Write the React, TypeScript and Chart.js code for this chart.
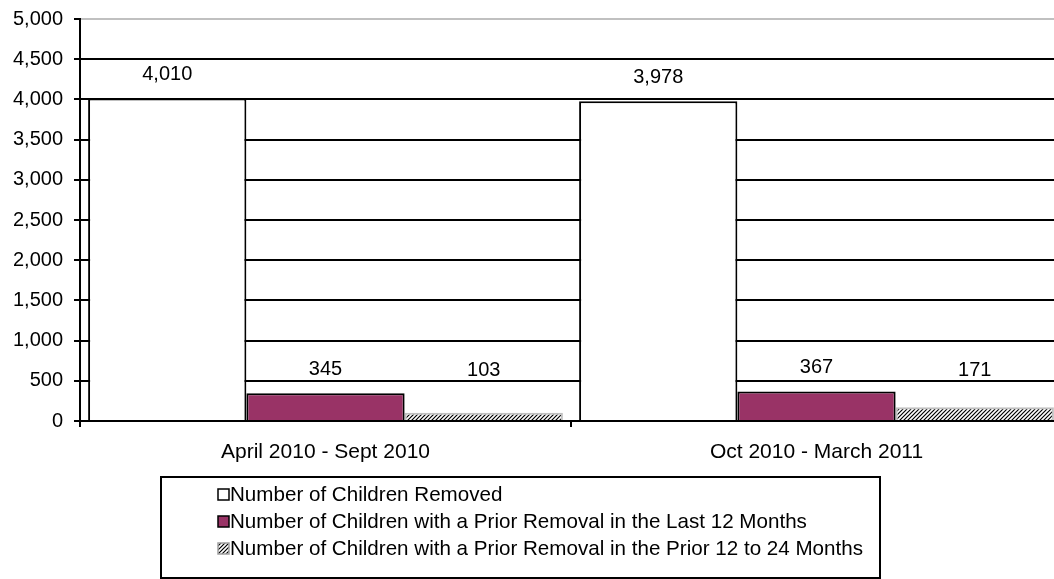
import React, { useEffect, useRef } from "react";
import { Chart, registerables } from "chart.js";

Chart.register(...registerables);

const categories = ["April 2010 - Sept 2010", "Oct 2010 - March 2011"];
const seriesLabels = [
  "Number of Children Removed",
  "Number of Children with a Prior Removal in the Last 12 Months",
  "Number of Children with a Prior Removal in the Prior 12 to 24 Months",
];
const removed = [4010, 3978];
const priorLast12 = [345, 367];
const prior12to24 = [103, 171];
const yMin = 0;
const yMax = 5000;
const yStep = 500;

const FONT = '"Liberation Sans", Arial, sans-serif';
const AXIS_FS = 20;
const CAT_FS = 21;
const LABEL_FS = 20;
const LEGEND_FS = 20.6;

function makeHatch(): CanvasPattern | string {
  const c = document.createElement("canvas");
  const s = 4;
  c.width = s;
  c.height = s;
  const g = c.getContext("2d");
  if (!g) return "#fff";
  g.fillStyle = "#fff";
  g.fillRect(0, 0, s, s);
  g.strokeStyle = "#000";
  g.lineWidth = 1.2;
  g.beginPath();
  g.moveTo(0, s);
  g.lineTo(s, 0);
  g.moveTo(-1, 1);
  g.lineTo(1, -1);
  g.moveTo(s - 1, s + 1);
  g.lineTo(s + 1, s - 1);
  g.stroke();
  const p = g.createPattern(c, "repeat");
  return p || "#fff";
}

const dataLabelPlugin = {
  id: "dataLabels",
  afterDatasetsDraw(chart: any) {
    const ctx = chart.ctx;
    const yScale = chart.scales.y;
    const zeroY = yScale.getPixelForValue(0);
    ctx.save();
    ctx.font = `${LABEL_FS}px ${FONT}`;
    ctx.fillStyle = "#000";
    ctx.textAlign = "center";
    ctx.textBaseline = "middle";
    chart.data.datasets.forEach((ds: any, di: number) => {
      const meta = chart.getDatasetMeta(di);
      meta.data.forEach((bar: any, i: number) => {
        const v = ds.data[i];
        const y = Math.min(bar.y - 24, zeroY - 51);
        ctx.fillText(v.toLocaleString("en-US"), bar.x, y);
      });
    });
    ctx.restore();
  },
};

const legendPlugin = {
  id: "boxLegend",
  afterDraw(chart: any) {
    const ctx = chart.ctx;
    ctx.save();
    ctx.strokeStyle = "#000";
    ctx.lineWidth = 2;
    ctx.strokeRect(161, 477, 719, 101);
    ctx.font = `${LEGEND_FS}px ${FONT}`;
    ctx.textBaseline = "middle";
    ctx.textAlign = "left";
    const rows = [494, 521, 548];
    chart.data.datasets.forEach((ds: any, i: number) => {
      const y = rows[i];
      ctx.fillStyle = ds.backgroundColor;
      ctx.fillRect(218, y - 5, 11, 11);
      ctx.strokeStyle = i === 2 ? "#a0a0a0" : "#000";
      ctx.lineWidth = 1.5;
      ctx.strokeRect(218, y - 5, 11, 11);
      ctx.fillStyle = "#000";
      ctx.fillText(ds.label, 230, y + 1);
    });
    ctx.restore();
  },
};

export default function App() {
  const ref = useRef<HTMLCanvasElement | null>(null);

  useEffect(() => {
    if (!ref.current) return;
    Chart.defaults.font.family = FONT;
    Chart.defaults.font.size = AXIS_FS;
    Chart.defaults.color = "#000";
    const hatch = makeHatch();
    const chart = new Chart(ref.current, {
      type: "bar",
      data: {
        labels: categories,
        datasets: [
          {
            label: seriesLabels[0],
            data: removed,
            backgroundColor: "#ffffff",
            borderColor: "#000000",
            borderWidth: 2,
            borderSkipped: "start",
          },
          {
            label: seriesLabels[1],
            data: priorLast12,
            backgroundColor: "#993366",
            borderColor: "#000000",
            borderWidth: 2,
            borderSkipped: "start",
          },
          {
            label: seriesLabels[2],
            data: prior12to24,
            backgroundColor: hatch as any,
            borderColor: "#c0c0c0",
            borderWidth: 2,
            borderSkipped: "start",
          },
        ],
      },
      options: {
        animation: false,
        responsive: false,
        devicePixelRatio: 1,
        categoryPercentage: 0.967,
        barPercentage: 1,
        layout: { padding: { top: 19, left: 0, right: 0, bottom: 0 } },
        plugins: {
          legend: { display: false },
          tooltip: { enabled: false },
        },
        scales: {
          x: {
            grid: {
              display: true,
              drawOnChartArea: false,
              drawTicks: true,
              tickLength: 6,
              color: "#000",
              tickColor: "#000",
              lineWidth: 2,
              offset: true,
            },
            border: { display: true, color: "#000", width: 2 },
            ticks: { padding: 13, font: { size: CAT_FS, family: FONT }, color: "#000" },
            afterFit(scale: any) {
              scale.height = 158;
              scale.paddingLeft = 0;
              scale.paddingRight = 0;
            },
          },
          y: {
            min: yMin,
            max: yMax,
            ticks: {
              stepSize: yStep,
              padding: 11,
              font: { size: AXIS_FS, family: FONT },
              color: "#000",
              callback: (v: any) => Number(v).toLocaleString("en-US"),
            },
            grid: {
              color: (c: any) => (c.tick && c.tick.value === yMax ? "#c0c0c0" : "#000"),
              tickColor: "#000",
              lineWidth: 2,
              tickLength: 6,
            },
            border: { display: true, color: "#000", width: 2 },
            afterFit(scale: any) {
              scale.width = 80;
              scale.paddingTop = 0;
              scale.paddingBottom = 0;
            },
          },
        },
      },
      plugins: [dataLabelPlugin, legendPlugin],
    });
    return () => chart.destroy();
  }, []);

  return (
    <div
      style={{
        position: "absolute",
        left: 0,
        top: 0,
        width: 1054,
        height: 579,
        overflow: "hidden",
        background: "#fff",
      }}
    >
      <canvas ref={ref} width={1062} height={579} style={{ display: "block" }} />
    </div>
  );
}
